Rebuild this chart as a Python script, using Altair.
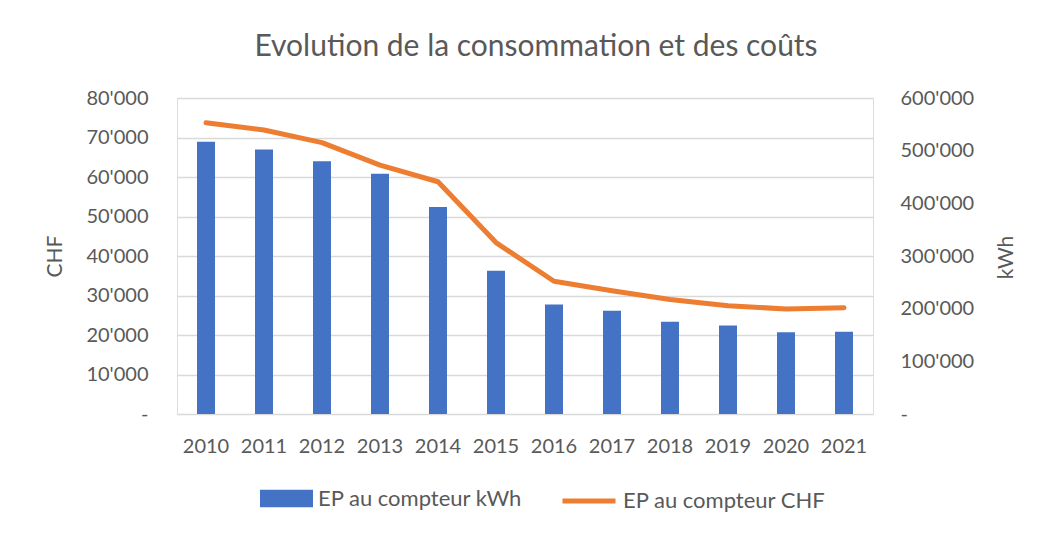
import altair as alt
import pandas as pd

years = ["2010", "2011", "2012", "2013", "2014", "2015", "2016", "2017", "2018", "2019", "2020", "2021"]
kwh = [517000, 502000, 480000, 456000, 393000, 272000, 208000, 196000, 175000, 168000, 155000, 156000]
chf = [73750, 71900, 68700, 63000, 58800, 43400, 33600, 31200, 29000, 27400, 26600, 26900]
left_ticks = [0, 10000, 20000, 30000, 40000, 50000, 60000, 70000, 80000]
right_ticks = [0, 100000, 200000, 300000, 400000, 500000, 600000]
bar_series = "EP au compteur kWh"
line_series = "EP au compteur CHF"
bar_color = "#4472C4"
line_color = "#ED7D31"

df = pd.DataFrame({"year": years, "kwh": kwh, "chf": chf})

FONT = "Lato"
GREY = "#595959"

fmt_left = "datum.value == 0 ? '-\u00a0\u00a0\u00a0' : replace(format(datum.value, ','), ',', \"'\")"
fmt_right = "datum.value == 0 ? '\u00a0-' : replace(format(datum.value, ','), ',', \"'\")"

common_legend = dict(
    title=None,
    orient="none",
    direction="horizontal",
    labelFont=FONT,
    labelFontSize=22,
    labelColor=GREY,
    labelOffset=5,
    labelLimit=400,
    symbolSize=2809,
)

xenc = alt.X(
    "year:N",
    sort=years,
    title=None,
    scale=alt.Scale(paddingInner=0.69, paddingOuter=0.345),
    axis=alt.Axis(labelAngle=0, ticks=False, domain=False, labelFont=FONT, labelFontSize=20,
                  labelColor=GREY, labelPadding=22, grid=False),
)

bars = alt.Chart(df).transform_calculate(series="'" + bar_series + "'").mark_bar().encode(
    x=xenc,
    y=alt.Y("kwh:Q", scale=alt.Scale(domain=[0, 600000], nice=False),
            axis=alt.Axis(orient="right", values=right_ticks, labelExpr=fmt_right, grid=False,
                          ticks=False, domain=False, title="kWh", titleAngle=270,
                          titleX=133, titleY=159, titleAlign="center", titleBaseline="middle",
                          titleFont=FONT, titleFontSize=21, titleFontWeight="normal", titleColor=GREY,
                          labelFont=FONT, labelFontSize=20, labelColor=GREY,
                          labelPadding=27)),
    fill=alt.Fill("series:N", scale=alt.Scale(domain=[bar_series], range=[bar_color]),
                  legend=alt.Legend(legendX=83, legendY=374,
                                    symbolType="M-1,-0.33H1V0.33H-1Z", symbolStrokeWidth=0,
                                    **common_legend)),
)

line = alt.Chart(df).transform_calculate(series="'" + line_series + "'").mark_line(
    strokeWidth=5, strokeCap="round", strokeJoin="round"
).encode(
    x=xenc,
    y=alt.Y("chf:Q", scale=alt.Scale(domain=[0, 80000], nice=False),
            axis=alt.Axis(orient="left", values=left_ticks, labelExpr=fmt_left, grid=True,
                          gridColor="#D9D9D9", gridWidth=1.5,
                          ticks=False, domain=False, title="CHF",
                          titleFont=FONT, titleFontSize=21, titleFontWeight="normal", titleColor=GREY,
                          titlePadding=20, labelFont=FONT, labelFontSize=20, labelColor=GREY,
                          labelPadding=29)),
    stroke=alt.Stroke("series:N", scale=alt.Scale(domain=[line_series], range=[line_color]),
                      legend=alt.Legend(legendX=383, legendY=374,
                                        symbolType="M-1,0H1", symbolStrokeWidth=5,
                                        **common_legend)),
)

chart = alt.layer(bars, line).resolve_scale(y="independent").properties(
    width=696,
    height=316,
    padding={"left": 169, "top": 90, "right": 171, "bottom": 112},
    autosize=alt.AutoSizeParams(type="none"),
    title=alt.TitleParams(
        "Evolution de la consommation et des coûts",
        font=FONT, fontSize=30, fontWeight="normal", color=GREY,
        anchor="middle", frame="group", dx=11, offset=26,
    ),
).configure_view(stroke=None).configure(background="white")

chart.save("out.html", embed_options={"renderer": "svg", "actions": False})
